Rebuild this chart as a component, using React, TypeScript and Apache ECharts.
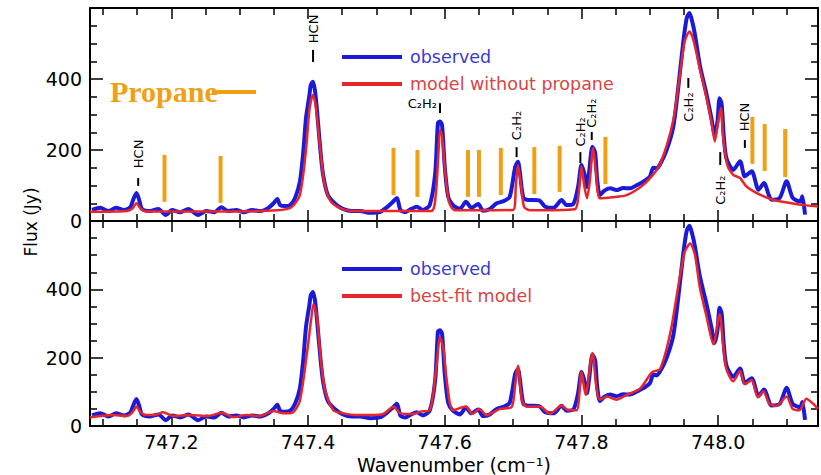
import React, { useEffect, useRef } from 'react';
import * as echarts from 'echarts';

// ---------- data ----------
const X_MIN = 747.081;
const X_MAX = 748.146;

const obsWn = [
  747.084, 747.096, 747.108, 747.119, 747.131, 747.140, 747.144, 747.149, 747.153, 747.157,
  747.169, 747.181, 747.192, 747.201, 747.213, 747.225, 747.239, 747.251, 747.263, 747.273,
  747.283, 747.295, 747.306, 747.318, 747.330, 747.342, 747.350, 747.355, 747.359, 747.366,
  747.374, 747.381, 747.388, 747.393, 747.397, 747.402, 747.404, 747.407, 747.410, 747.413,
  747.418, 747.422, 747.429, 747.440, 747.451, 747.464, 747.476, 747.491, 747.505, 747.516,
  747.523, 747.530, 747.535, 747.542, 747.551, 747.559, 747.568, 747.578, 747.586, 747.590,
  747.593, 747.596, 747.600, 747.605, 747.612, 747.622, 747.631, 747.639, 747.649, 747.656,
  747.666, 747.676, 747.686, 747.695, 747.703, 747.707, 747.710, 747.715, 747.722, 747.729,
  747.739, 747.747, 747.759, 747.771, 747.778, 747.788, 747.795, 747.800, 747.804, 747.808,
  747.811, 747.816, 747.820, 747.823, 747.827, 747.833, 747.842, 747.851, 747.861, 747.871,
  747.881, 747.890, 747.900, 747.905, 747.910, 747.915, 747.924, 747.934, 747.941, 747.949,
  747.954, 747.958, 747.962, 747.966, 747.973, 747.983, 747.990, 747.995, 747.999, 748.002,
  748.005, 748.008, 748.012, 748.022, 748.032, 748.039, 748.049, 748.059, 748.067, 748.078,
  748.090, 748.100, 748.109, 748.120, 748.123, 748.127,
];
const obsFlux = [
  31, 37, 28, 37, 31, 39, 59, 79, 59, 34,
  28, 34, 17, 31, 25, 34, 17, 28, 25, 39,
  28, 31, 25, 31, 28, 37, 51, 62, 45, 42,
  45, 65, 110, 194, 290, 355, 383, 392, 369, 313,
  200, 130, 73, 48, 34, 28, 28, 23, 25, 40,
  52, 65, 31, 25, 34, 40, 31, 45, 135, 276,
  280, 270, 152, 68, 45, 34, 54, 37, 48, 29,
  34, 50, 56, 68, 152, 167, 135, 65, 59, 59,
  57, 40, 37, 59, 45, 48, 96, 158, 135, 96,
  135, 209, 192, 115, 73, 85, 92, 87, 93, 92,
  101, 110, 125, 150, 148, 160, 197, 262, 366, 506,
  572, 586, 562, 525, 440, 356, 290, 243, 282, 346,
  330, 243, 177, 144, 168, 126, 140, 88, 107, 60,
  65, 112, 65, 55, 70, 18,
];

const modelWn = [
  747.081, 747.135, 747.143, 747.149, 747.155, 747.163, 747.300, 747.355, 747.375, 747.388,
  747.397, 747.402, 747.407, 747.411, 747.418, 747.423, 747.432, 747.446, 747.464, 747.580,
  747.587, 747.591, 747.593, 747.596, 747.600, 747.606, 747.615, 747.700, 747.704, 747.707,
  747.711, 747.716, 747.725, 747.790, 747.796, 747.800, 747.804, 747.808, 747.812, 747.817,
  747.821, 747.827, 747.845, 747.866, 747.886, 747.900, 747.915, 747.934, 747.944, 747.951,
  747.958, 747.963, 747.973, 747.983, 747.990, 747.995, 748.000, 748.004, 748.007, 748.013,
  748.022, 748.032, 748.041, 748.061, 748.080, 748.105, 748.129, 748.146,
];
const modelFlux = [
  26, 28, 35, 50, 35, 27, 27, 30, 38, 73,
  200, 313, 355, 327, 200, 115, 59, 37, 28, 28,
  80, 200, 256, 240, 150, 55, 30, 31, 100, 158,
  110, 40, 30, 33, 80, 153, 100, 64, 110, 205,
  140, 64, 67, 73, 95, 120, 160, 281, 412, 506,
  534, 515, 431, 346, 281, 224, 281, 318, 243, 159,
  130, 121, 98, 74, 60, 51, 44, 41,
];

const fitWn = [
  747.081, 747.096, 747.115, 747.135, 747.143, 747.149, 747.155, 747.163, 747.176, 747.188,
  747.203, 747.228, 747.253, 747.274, 747.291, 747.310, 747.330, 747.349, 747.364, 747.378,
  747.388, 747.398, 747.405, 747.408, 747.413, 747.418, 747.425, 747.437, 747.452, 747.471,
  747.491, 747.510, 747.525, 747.535, 747.554, 747.564, 747.578, 747.588, 747.593, 747.598,
  747.603, 747.612, 747.631, 747.640, 747.651, 747.661, 747.681, 747.698, 747.703, 747.707,
  747.713, 747.720, 747.739, 747.754, 747.771, 747.781, 747.793, 747.800, 747.806, 747.816,
  747.822, 747.827, 747.837, 747.851, 747.866, 747.886, 747.903, 747.915, 747.930, 747.942,
  747.951, 747.959, 747.966, 747.973, 747.983, 747.993, 748.002, 748.007, 748.012, 748.022,
  748.032, 748.039, 748.049, 748.058, 748.066, 748.075, 748.085, 748.100, 748.109, 748.119,
  748.129, 748.139, 748.146,
];
const fitFlux = [
  25, 29, 32, 29, 40, 57, 40, 32, 32, 40,
  29, 32, 29, 39, 26, 32, 29, 44, 37, 40,
  74, 207, 320, 357, 320, 207, 103, 46, 37, 32,
  32, 35, 56, 37, 35, 42, 46, 178, 260, 226,
  131, 46, 57, 36, 50, 32, 50, 56, 120, 176,
  74, 56, 57, 36, 60, 46, 46, 157, 91, 214,
  110, 77, 86, 77, 91, 110, 157, 167, 273, 414,
  509, 534, 501, 407, 320, 239, 328, 244, 167, 131,
  161, 122, 135, 84, 102, 65, 59, 86, 50, 46,
  80, 65, 50,
];

// propane line markers (top panel)
const propaneWn = [747.190, 747.272, 747.525, 747.560, 747.634, 747.650, 747.682, 747.731, 747.768, 747.835, 748.050, 748.068, 748.098];
const propaneLo = [54, 51, 73, 68, 68, 68, 73, 76, 82, 104, 161, 141, 124];
const propaneHi = [186, 183, 206, 200, 200, 200, 206, 208, 212, 237, 293, 273, 259];

// molecular line identifications (top panel)
const annotText = ['HCN', 'HCN', 'C₂H₂', 'C₂H₂', 'C₂H₂', 'C₂H₂', 'C₂H₂', 'C₂H₂', 'HCN'];
const annotWn = [747.1515, 747.4073, 747.593, 747.7051, 747.7984, 747.815, 747.9563, 748.003, 748.039];
const annotTickLo = [99, 448, 304, 180, 163, 228, 375, 158, 206];
const annotTickHi = [121, 482, 332, 208, 194, 251, 403, 194, 228];
const annotLabelY = [189, 541, 330, 269, 251, 304, 321, 87, 293];
const annotHorizontal = [0, 0, 1, 0, 0, 0, 0, 0, 0];

const yTicks = { min: 0, max: 600, interval: 200 };

// ---------- styles ----------
const FONT = 'DejaVu Sans';
const BLUE = '#1a1ad8';
const RED = '#e8262a';
const ORANGE = '#f0a014';

function xAxis(gridIndex: number, position: string, showLabel: boolean, extra: any = {}) {
  return {
    type: 'value',
    gridIndex,
    position,
    min: X_MIN,
    max: X_MAX,
    splitNumber: 5,
    axisLine: { show: true, onZero: false, lineStyle: { color: '#000', width: 2 } },
    axisTick: { show: true, inside: true, length: 11, lineStyle: { color: '#000', width: 1.5 } },
    minorTick: { show: true, splitNumber: 4, length: 7, lineStyle: { color: '#000', width: 1.5 } },
    axisLabel: {
      show: showLabel,
      showMinLabel: false,
      showMaxLabel: false,
      margin: 6,
      color: '#000',
      fontSize: 19,
      fontFamily: FONT,
      formatter: (v: number) => v.toFixed(1),
    },
    splitLine: { show: false },
    ...extra,
  };
}

function yAxis(gridIndex: number, position: string, showLabel: boolean) {
  return {
    type: 'value',
    gridIndex,
    position,
    min: yTicks.min,
    max: yTicks.max,
    interval: yTicks.interval,
    axisLine: { show: true, onZero: false, lineStyle: { color: '#000', width: 2 } },
    axisTick: { show: true, inside: true, length: 13, lineStyle: { color: '#000', width: 1.5 } },
    minorTick: { show: true, splitNumber: 4, length: 7, lineStyle: { color: '#000', width: 1.5 } },
    axisLabel: {
      show: showLabel,
      showMaxLabel: false,
      margin: 8,
      color: '#000',
      fontSize: 19,
      fontFamily: FONT,
    },
    splitLine: { show: false },
  };
}

const pairs = (xs: number[], ys: number[]) => xs.map((x, i) => [x, ys[i]]);

export default function App() {
  const ref = useRef<HTMLDivElement>(null);

  useEffect(() => {
    if (!ref.current) return;
    const chart = echarts.init(ref.current, null, { renderer: 'svg' });

    const lineSeries = (name: string, data: number[][], color: string, width: number, xi: number, yi: number, z: number) => ({
      type: 'line',
      name,
      data,
      xAxisIndex: xi,
      yAxisIndex: yi,
      symbol: 'none',
      showSymbol: false,
      smooth: 0.25,
      z,
      lineStyle: { color, width },
      itemStyle: { color },
      silent: true,
    });

    const legendCommon = {
      orient: 'vertical',
      left: 342,
      padding: 0,
      icon: 'rect',
      itemWidth: 60,
      itemHeight: 4,
      itemGap: 9,
      selectedMode: false,
      textStyle: { fontSize: 17.5, fontFamily: FONT, lineHeight: 18, padding: [0, 0, 0, 3] },
    };

    const option: any = {
      animation: false,
      backgroundColor: '#fff',
      grid: [
        { left: 90, top: 8, width: 728, height: 213 },
        { left: 90, top: 221, width: 728, height: 212 },
      ],
      xAxis: [
        xAxis(0, 'bottom', false),
        xAxis(0, 'top', false),
        xAxis(1, 'bottom', true, {
          name: 'Wavenumber (cm⁻¹)',
          nameLocation: 'middle',
          nameGap: 29,
          nameTextStyle: { color: '#000', fontSize: 19, fontFamily: FONT },
        }),
        xAxis(1, 'top', false),
      ],
      yAxis: [
        yAxis(0, 'left', true),
        yAxis(0, 'right', false),
        yAxis(1, 'left', true),
        yAxis(1, 'right', false),
      ],
      legend: [
        {
          ...legendCommon,
          top: 48,
          data: [
            { name: 'observed', textStyle: { color: '#3a3ad0' } },
            { name: 'model without propane', textStyle: { color: '#d84545' } },
          ],
        },
        {
          ...legendCommon,
          top: 260,
          data: [
            { name: 'observed', textStyle: { color: '#3a3ad0' } },
            { name: 'best-fit model', textStyle: { color: '#d84545' } },
          ],
        },
      ],
      series: [
        lineSeries('observed', pairs(obsWn, obsFlux), BLUE, 4, 0, 0, 2),
        lineSeries('model without propane', pairs(modelWn, modelFlux), RED, 2.5, 0, 0, 3),
        lineSeries('observed', pairs(obsWn, obsFlux), BLUE, 4, 2, 2, 2),
        lineSeries('best-fit model', pairs(fitWn, fitFlux), RED, 2.5, 2, 2, 3),
        {
          type: 'custom',
          name: 'propane lines',
          xAxisIndex: 0,
          yAxisIndex: 0,
          silent: true,
          z: 4,
          data: propaneWn.map((w, i) => [w, propaneLo[i], propaneHi[i]]),
          renderItem: (_p: any, api: any) => {
            const a = api.coord([api.value(0), api.value(1)]);
            const b = api.coord([api.value(0), api.value(2)]);
            return {
              type: 'line',
              shape: { x1: a[0], y1: a[1], x2: b[0], y2: b[1] },
              style: { stroke: ORANGE, lineWidth: 4 },
            };
          },
        },
        {
          type: 'custom',
          name: 'line ids',
          xAxisIndex: 0,
          yAxisIndex: 0,
          silent: true,
          z: 5,
          data: annotWn.map((w, i) => [w, annotTickLo[i], annotTickHi[i], annotLabelY[i], annotHorizontal[i]]),
          renderItem: (params: any, api: any) => {
            const i = params.dataIndex;
            const w = api.value(0);
            const a = api.coord([w, api.value(1)]);
            const b = api.coord([w, api.value(2)]);
            const c = api.coord([w, api.value(3)]);
            const horiz = api.value(4) === 1;
            return {
              type: 'group',
              children: [
                {
                  type: 'line',
                  shape: { x1: a[0], y1: a[1], x2: b[0], y2: b[1] },
                  style: { stroke: '#000', lineWidth: 2 },
                },
                {
                  type: 'text',
                  x: horiz ? c[0] - 3 : c[0],
                  y: c[1],
                  rotation: horiz ? 0 : Math.PI / 2,
                  style: {
                    text: annotText[i],
                    fontSize: 13,
                    fontFamily: FONT,
                    fill: '#000',
                    align: horiz ? 'right' : 'center',
                    verticalAlign: 'middle',
                  },
                },
              ],
            };
          },
        },
      ],
      graphic: [
        {
          type: 'text',
          x: 31,
          y: 222,
          rotation: Math.PI / 2,
          style: {
            text: 'Flux (Jy)',
            fontSize: 17,
            fontFamily: FONT,
            fill: '#000',
            align: 'center',
            verticalAlign: 'middle',
          },
        },
        {
          type: 'text',
          x: 110,
          y: 91,
          style: {
            text: 'Propane',
            fontSize: 30,
            fontWeight: 'bold',
            fontFamily: 'Liberation Serif',
            fill: ORANGE,
            align: 'left',
            verticalAlign: 'middle',
          },
        },
        {
          type: 'line',
          shape: { x1: 212, y1: 92, x2: 256, y2: 92 },
          style: { stroke: ORANGE, lineWidth: 4 },
        },
      ],
    };

    chart.setOption(option);
    return () => chart.dispose();
  }, []);

  return (
    <div
      ref={ref}
      style={{ position: 'fixed', left: 0, top: 0, width: 821, height: 475, background: '#fff' }}
    />
  );
}
